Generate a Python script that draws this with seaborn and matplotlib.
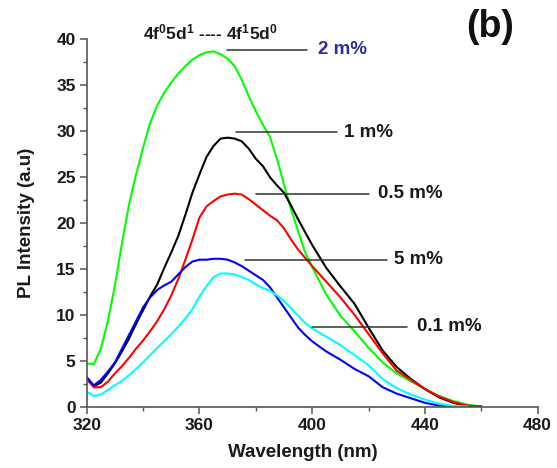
"""
PL emission spectra of the doped samples, redrawn with seaborn.
"""
import matplotlib

matplotlib.use("Agg")
import matplotlib.pyplot as plt
from matplotlib.ticker import MultipleLocator
import pandas as pd
import seaborn as sns

# wavelength grid (nm) the values were read on
wavelength = [320, 322.5, 325, 327.5, 330, 332.5, 335, 337.5, 340, 342.5, 345, 347.5,
              350, 352.5, 355, 357.5, 360, 362.5, 365, 367.5, 370, 372.5, 375, 377.5,
              380, 382.5, 385, 387.5, 390, 392.5, 395, 397.5, 400, 405, 410, 415, 420,
              425, 430, 435, 440, 445, 450, 455, 460]

# PL intensity (a.u) per doping level
pl_2 = [4.7, 4.6, 6.3, 9.3, 13.2, 17.8, 22.0, 25.3, 28.2, 30.9, 32.8, 34.2,
        35.3, 36.3, 37.1, 37.8, 38.3, 38.6, 38.7, 38.4, 37.9, 37.1, 35.6, 33.8,
        32.2, 30.7, 29.4, 27.0, 24.2, 21.5, 19.1, 16.8, 15.2, 12.2, 9.9, 8.2, 6.4,
        4.8, 3.6, 2.75, 1.9, 1.15, 0.6, 0.2, 0.0]
pl_1 = [3.0, 2.2, 2.6, 3.6, 4.7, 6.0, 7.4, 9.0, 10.5, 12.0, 13.3, 15.1,
        16.8, 18.6, 20.9, 23.3, 25.3, 27.2, 28.4, 29.2, 29.3, 29.2, 28.9, 28.1,
        27.0, 26.2, 25.0, 24.1, 23.3, 21.9, 20.4, 19.0, 17.6, 15.1, 13.1, 11.2, 8.6,
        6.1, 4.3, 3.0, 1.9, 1.0, 0.4, 0.05, 0.0]
pl_05 = [3.0, 2.1, 2.1, 2.7, 3.6, 4.4, 5.3, 6.3, 7.2, 8.2, 9.3, 10.6,
         12.1, 13.9, 16.0, 18.2, 20.6, 21.8, 22.4, 22.9, 23.1, 23.2, 23.1, 22.6,
         22.0, 21.4, 20.8, 20.3, 19.4, 18.2, 17.1, 16.2, 15.3, 13.6, 11.9, 10.0, 7.9,
         5.8, 3.9, 2.9, 1.9, 1.1, 0.5, 0.1, 0.0]
pl_5 = [3.2, 2.3, 2.9, 3.8, 4.8, 6.3, 7.8, 9.3, 10.8, 11.9, 12.7, 13.2,
        13.6, 14.4, 15.2, 15.8, 16.0, 16.0, 16.1, 16.1, 16.0, 15.7, 15.3, 14.8,
        14.3, 13.8, 13.0, 11.9, 10.8, 9.7, 8.6, 7.8, 7.1, 6.0, 5.1, 4.1, 3.3,
        2.1, 1.4, 0.9, 0.4, 0.1, 0.0, 0.0, 0.0]
pl_01 = [1.6, 1.15, 1.3, 1.8, 2.3, 2.8, 3.4, 4.1, 4.8, 5.6, 6.4, 7.1,
         7.9, 8.7, 9.6, 10.6, 12.0, 13.1, 14.1, 14.5, 14.5, 14.4, 14.1, 13.8,
         13.3, 12.9, 12.6, 12.1, 11.5, 10.7, 9.9, 9.1, 8.5, 7.6, 6.7, 5.6, 4.5,
         3.0, 2.0, 1.3, 0.75, 0.3, 0.05, 0.0, 0.0]

labels = ["2 m%", "1 m%", "0.5 m%", "5 m%", "0.1 m%"]
series = [pl_2, pl_1, pl_05, pl_5, pl_01]
colors = ["#00ff00", "#000000", "#ff0000", "#0000ff", "#00ffff"]

# annotation leader lines: (x start, x end, y) and label position, data units
leader_x0 = [369.6, 372.9, 380.2, 376.2, 400.1]
leader_x1 = [398.0, 408.7, 420.3, 426.5, 433.5]
leader_y = [38.9, 29.9, 23.2, 16.0, 8.7]
label_x = [402.0, 411.4, 423.3, 429.0, 437.3]
label_colors = ["#2e2e9e", "#1a1a1a", "#1a1a1a", "#1a1a1a", "#1a1a1a"]


def main() -> None:
    sns.set_theme(style="ticks")
    plt.rcParams["font.family"] = ["Liberation Sans", "DejaVu Sans"]
    plt.rcParams["font.weight"] = "bold"
    plt.rcParams["mathtext.fontset"] = "custom"
    plt.rcParams["mathtext.rm"] = "Liberation Sans:bold"
    plt.rcParams["mathtext.bf"] = "Liberation Sans:bold"
    plt.rcParams["mathtext.default"] = "bf"

    frames = []
    for lab, vals in zip(labels, series):
        frames.append(pd.DataFrame({"wavelength": wavelength, "pl": vals, "sample": lab}))
    df = pd.concat(frames, ignore_index=True)
    # drop the flat tail after each curve reaches zero
    df = df[~((df["pl"] == 0) & (df.groupby("sample")["pl"].shift(1) == 0))]

    fig = plt.figure(figsize=(5.57, 4.68), dpi=100)
    ax = fig.add_axes([0.1557, 0.1314, 0.8096, 0.7842])
    sns.lineplot(data=df, x="wavelength", y="pl", hue="sample", hue_order=labels,
                 palette=colors, linewidth=1.5, legend=False, ax=ax)

    ax.set_xlim(320, 480)
    ax.set_ylim(0, 40)
    ax.xaxis.set_major_locator(MultipleLocator(40))
    ax.xaxis.set_minor_locator(MultipleLocator(20))
    ax.yaxis.set_major_locator(MultipleLocator(5))
    ax.yaxis.set_minor_locator(MultipleLocator(2.5))
    sns.despine(ax=ax)
    for side in ["left", "bottom"]:
        ax.spines[side].set_color("#555555")
        ax.spines[side].set_linewidth(1.2)
    ax.tick_params(which="major", length=5, width=1.1, color="#555555",
                   labelsize=12.5, labelcolor="#1a1a1a", pad=3)
    ax.tick_params(which="minor", length=3, width=1.0, color="#555555")
    for t in ax.get_xticklabels() + ax.get_yticklabels():
        t.set_fontweight("bold")

    ax.set_xlabel("Wavelength (nm)", fontsize=13.5, fontweight="bold", color="#1a1a1a")
    ax.set_ylabel("PL Intensity (a.u)", fontsize=13.5, fontweight="bold", color="#1a1a1a")
    ax.xaxis.set_label_coords(0.48, -0.102)
    ax.yaxis.set_label_coords(-0.115, 0.5)

    for x0, x1, y, lx, lab, c in zip(leader_x0, leader_x1, leader_y, label_x, labels, label_colors):
        ax.plot([x0, x1], [y, y], color="#333333", linewidth=1.1)
        ax.text(lx, y, lab, color=c, fontsize=13.5, fontweight="bold", va="center", ha="left")

    ax.text(363.8, 40.8, r"4f$^{0}$5d$^{1}$ ---- 4f$^{1}$5d$^{0}$", fontsize=12.5,
            fontweight="bold", color="#1a1a1a", ha="center", va="center", clip_on=False)
    fig.text(0.88, 0.943, "(b)", fontsize=27, fontweight="bold", color="#111111",
             ha="center", va="center")

    fig.savefig("out.png", dpi=100)
    plt.close(fig)


if __name__ == "__main__":
    main()
